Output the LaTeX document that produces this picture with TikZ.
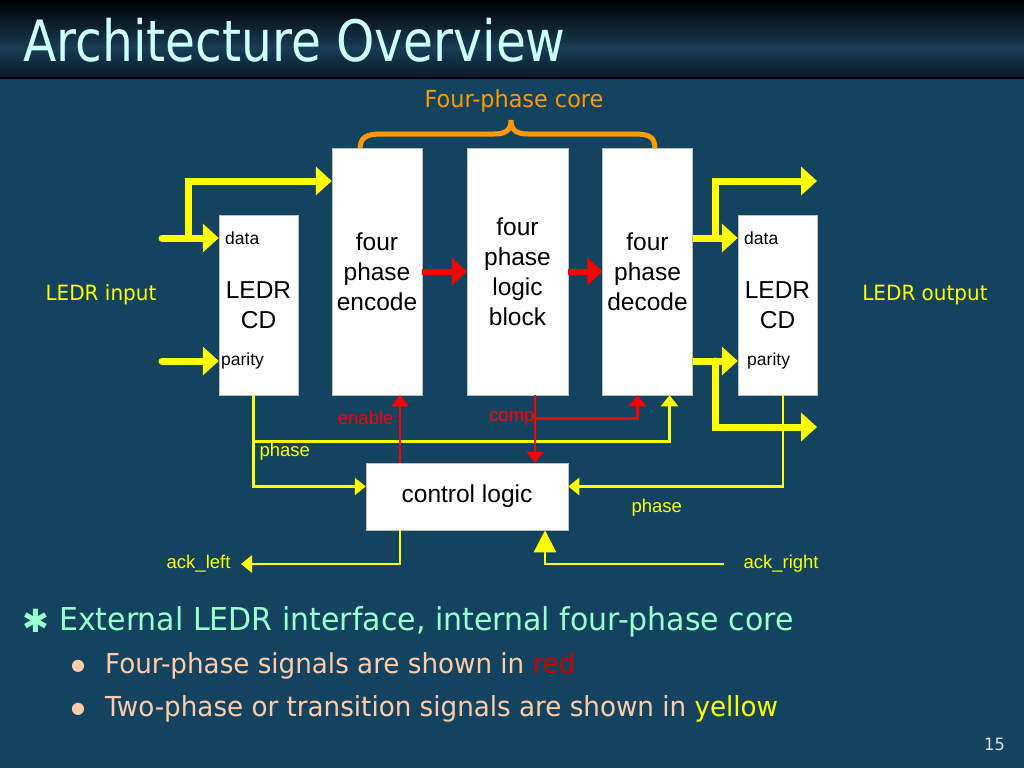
\documentclass[tikz,border=0pt]{standalone}
\usepackage{fontspec}
\setmainfont{Liberation Sans}
\newfontfamily\titlefont[FakeStretch=0.854]{DejaVu Sans}
\newfontfamily\slidefont[FakeStretch=0.952]{DejaVu Sans}
\newfontfamily\symfont{DejaVu Sans}
\usetikzlibrary{arrows.meta,calc}

\definecolor{slidebg}{RGB}{20,67,95}
\definecolor{bandmid}{RGB}{24,60,85}
\definecolor{banddark}{RGB}{8,26,38}
\definecolor{titlecol}{RGB}{204,255,255}
\definecolor{corecol}{RGB}{255,153,0}
\definecolor{sigyellow}{RGB}{255,255,0}
\definecolor{sigred}{RGB}{255,0,0}
\definecolor{textred}{RGB}{204,0,0}
\definecolor{mint}{RGB}{153,255,204}
\definecolor{peach}{RGB}{255,204,170}

\tikzset{
  blk/.style={draw=gray!50, fill=white, line width=0.5pt, align=center, inner sep=0pt, font=\fontsize{24.5}{30}\selectfont},
  pinlbl/.style={font=\fontsize{17.5}{20}\selectfont, inner sep=0pt},
  lbl/.style={font=\fontsize{18.5}{21}\selectfont, text=sigyellow},
  rlbl/.style={font=\fontsize{18.5}{21}\selectfont, text=sigred},
  fatY/.style={draw=sigyellow, line width=7pt, line cap=round, -{Triangle[length=16pt,width=28pt]}},
  fatR/.style={draw=sigred, line width=6pt, -{Triangle[length=15pt,width=27pt]}},
  thinY/.style={draw=sigyellow, line width=2.5pt, -{Triangle[length=11pt,width=17pt]}},
  thinR/.style={draw=sigred, line width=2.5pt, -{Triangle[length=11pt,width=17pt]}},
}

\begin{document}
\begin{tikzpicture}[x=1pt,y=-1pt]
	\useasboundingbox (0,0) rectangle (1024,768);
	% slide background and title band
	\fill[slidebg] (0,0) rectangle (1024,768);
	\shade[top color=black, bottom color=bandmid] (0,0) rectangle (1024,48);
	\shade[top color=bandmid, bottom color=banddark] (0,48) rectangle (1024,78);
	\draw[black, line width=1.5pt] (0,78) -- (1024,78);
	\node[anchor=base west, text=titlecol, font=\titlefont\fontsize{57}{60}\selectfont, inner sep=0pt] (title) at (23,62) {Architecture Overview};

	% four-phase core brace
	\node[text=corecol, font=\slidefont\fontsize{23.5}{26}\selectfont] (corelbl) at (514,101) {Four-phase core};
	\draw[corecol, line width=5pt] (360,150) .. controls (360,137) and (366,134) .. (382,134) -- (494,134)
		.. controls (506,134) and (511,130) .. (511,120) .. controls (511,130) and (516,134) .. (528,134)
		-- (634,134) .. controls (650,134) and (655,137) .. (655,150);

	% blocks
	\node[blk, minimum width=79pt, minimum height=180pt] (ledrin) at (258.5,305) {LEDR\\CD};
	\node[blk, minimum width=90pt, minimum height=247pt] (enc) at (377,271.5) {four\\phase\\encode};
	\node[blk, minimum width=101pt, minimum height=247pt] (logic) at (517.5,271.5) {four\\phase\\logic\\block};
	\node[blk, minimum width=90pt, minimum height=247pt] (dec) at (647.5,271.5) {four\\phase\\decode};
	\node[blk, minimum width=79pt, minimum height=180pt] (ledrout) at (777.5,305) {LEDR\\CD};
	\node[blk, minimum width=202pt, minimum height=67pt] (ctrl) at (467,496.5) {control logic};

	\node[pinlbl, anchor=west] (dataL) at (225,238) {data};
	\node[pinlbl, anchor=west] (parL) at (221,361) {parity};
	\node[pinlbl, anchor=west] (dataR) at (744,238) {data};
	\node[pinlbl, anchor=west] (parR) at (747,361) {parity};

	\node[text=sigyellow, font=\slidefont\fontsize{21}{24}\selectfont] (inlbl) at (101,295) {LEDR input};
	\node[text=sigyellow, font=\slidefont\fontsize{21}{24}\selectfont] (outlbl) at (925,295) {LEDR output};

	% LEDR side (yellow)
	\coordinate (inD) at (162,238);
	\coordinate (inP) at (162,361);
	\coordinate (brL) at (188,238);
	\coordinate (topY) at (817,181);
	\coordinate (botY) at (817,427);
	\coordinate (brRD) at (715,238);
	\coordinate (brRP) at (715,361);
	\draw[fatY] (inD) -- (ledrin.west |- inD);
	\draw[fatY] (inP) -- (ledrin.west |- inP);
	\draw[fatY] (brL) |- (enc.west |- topY);
	\draw[fatY, line cap=butt] (dec.east |- dataR) -- (ledrout.west |- dataR);
	\draw[fatY, line cap=butt] (dec.east |- parR) -- (ledrout.west |- parR);
	\draw[fatY] (brRD) |- (topY);
	\draw[fatY] (brRP) |- (botY);

	% four-phase data path (red)
	\draw[fatR] (enc.east) -- (logic.west);
	\draw[fatR] (logic.east) -- (dec.west);

	% control signals
	\coordinate (phL) at ([xshift=-5pt]ledrin.south);
	\coordinate (phB) at ($(ledrin.south)+(-5,46)$);
	\coordinate (phR) at ([xshift=5.5pt]ledrout.south);
	\draw[thinY] (phL) |- ([yshift=10pt]ctrl.west);
	\draw[thinY] (phB) -| ([xshift=22pt]dec.south);
	\draw[thinY] (phR) |- ([yshift=10pt]ctrl.east);
	\node[lbl, anchor=west] (phLl) at (256,452) {phase};
	\node[lbl, anchor=west] (phRl) at (628,508) {phase};

	\coordinate (enb) at ([xshift=-67pt]ctrl.north);
	\coordinate (cmp) at ([xshift=17.5pt]logic.south);
	\coordinate (cmpB) at ($(cmp)+(0,23)$);
	\draw[thinR] (enb) -- (enb |- enc.south);
	\draw[thinR] (cmp) -- (cmp |- ctrl.north);
	\draw[thinR] (cmpB) -| ([xshift=-10pt]dec.south);
	\node[rlbl, anchor=east] (enl) at (397,418) {enable};
	\node[rlbl, anchor=east] (cml) at (538,418) {comp};

	\node[lbl, anchor=east] (ackl) at (234,564) {ack\_left};
	\node[lbl, anchor=west] (ackr) at (740,564) {ack\_right};
	\coordinate (ackLs) at ([xshift=-67pt]ctrl.south);
	\draw[thinY] (ackLs) |- ([xshift=7pt]ackl.east);
	\draw[thinY, -{Triangle[length=22pt,width=22pt]}] ([xshift=-16pt]ackr.west) -| ([xshift=78pt]ctrl.south);

	% bullets
	\node[anchor=base west, text=mint, font=\symfont\fontsize{32}{34}\selectfont, inner sep=0pt] (b1) at (22,632) {✱};
	\node[anchor=base west, text=mint, font=\slidefont\fontsize{31.5}{34}\selectfont, inner sep=0pt] (t1) at (59,630) {External LEDR interface, internal four-phase core};
	\node[anchor=base west, text=peach, font=\symfont\fontsize{16}{18}\selectfont, inner sep=0pt] (b2) at (71,670) {●};
	\node[anchor=base west, text=peach, font=\slidefont\fontsize{27.5}{30}\selectfont, inner sep=0pt] (t2) at (105,673) {Four-phase signals are shown in \textcolor{textred}{red}};
	\node[anchor=base west, text=peach, font=\symfont\fontsize{16}{18}\selectfont, inner sep=0pt] (b3) at (71,713) {●};
	\node[anchor=base west, text=peach, font=\slidefont\fontsize{27.5}{30}\selectfont, inner sep=0pt] (t3) at (105,716) {Two-phase or transition signals are shown in \textcolor{sigyellow}{yellow}};
	\node[anchor=base east, text=white!85!slidebg, font=\slidefont\fontsize{17}{18}\selectfont, inner sep=0pt] (pg) at (1005,750) {15};
\end{tikzpicture}
\end{document}
